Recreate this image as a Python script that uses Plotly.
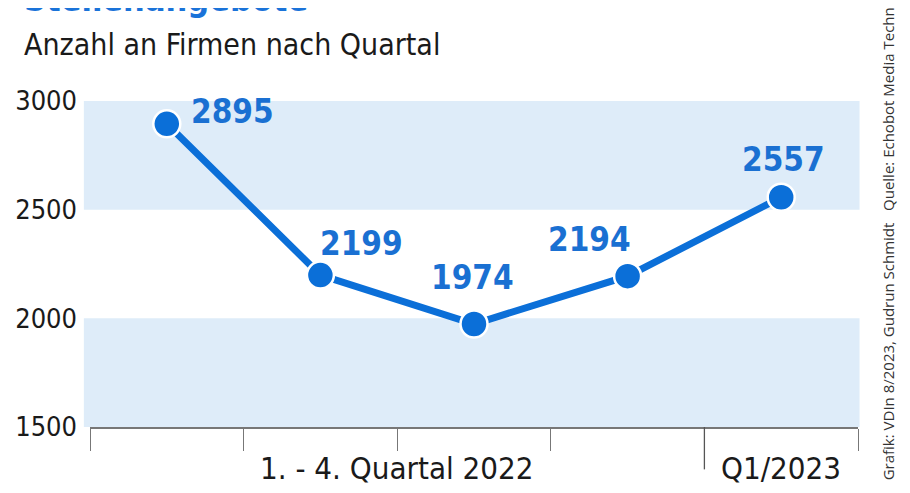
import plotly.graph_objects as go

# ---- data ----
quarters = ["Q1/2022", "Q2/2022", "Q3/2022", "Q4/2022", "Q1/2023"]
firms = [2895, 2199, 1974, 2194, 2557]
group_labels = ["1. - 4. Quartal 2022", "Q1/2023"]
y_ticks = [1500, 2000, 2500, 3000]

title = "Stellenangebote"
subtitle = "Anzahl an Firmen nach Quartal"
source = "Grafik: VDIn 8/2023, Gudrun Schmidt   Quelle: Echobot Media Technologies"

BLUE = "#0b6fd8"
LABEL_BLUE = "#1a70d2"
BAND = "#deecf9"
FONT = "DejaVu Sans Condensed, sans-serif"

xs = list(range(len(quarters)))

fig = go.Figure()
fig.add_trace(go.Scatter(
    x=xs, y=firms, mode="lines+markers",
    line=dict(color=BLUE, width=7),
    marker=dict(size=27, color=BLUE, line=dict(color="white", width=2.5)),
    hoverinfo="skip", showlegend=False,
))

# background bands
for lo, hi in [(1500, 2000), (2500, 3000)]:
    fig.add_shape(type="rect", xref="paper", yref="y", x0=-0.008, x1=1.002,
                  y0=lo, y1=hi, fillcolor=BAND, line_width=0, layer="below")

# long separator tick between 2022 and 2023
fig.add_shape(type="line", xref="x", yref="paper", x0=3.5, x1=3.5, y0=0, y1=-0.13,
              line=dict(color="#555", width=1.3))

# data labels
shifts = [(66, 12), (41, 32), (-2, 46), (-38, 37), (2, 38)]
for x, v, (dx, dy) in zip(xs, firms, shifts):
    fig.add_annotation(x=x, y=v, text=f"<b>{v}</b>", showarrow=False,
                       xshift=dx, yshift=dy,
                       font=dict(family="DejaVu Sans Condensed, DejaVu Sans", size=33, color=LABEL_BLUE))

# group labels
fig.add_annotation(x=1.5, y=-0.125, xref="x", yref="paper", text=group_labels[0],
                   showarrow=False, yanchor="middle",
                   font=dict(family=FONT, size=31, color="#1a1a1a"))
fig.add_annotation(x=4, y=-0.125, xref="x", yref="paper", text=group_labels[1],
                   showarrow=False, yanchor="middle",
                   font=dict(family=FONT, size=31, color="#1a1a1a"))

# title + subtitle
fig.add_annotation(x=-0.088, y=1.312, xref="paper", yref="paper", text=f"<b>{title}</b>",
                   showarrow=False, xanchor="left", yanchor="middle",
                   font=dict(family="DejaVu Sans Condensed, DejaVu Sans", size=34, color="#1a73d9"))
fig.add_annotation(x=-0.088, y=1.172, xref="paper", yref="paper", text=subtitle,
                   showarrow=False, xanchor="left", yanchor="middle",
                   font=dict(family=FONT, size=30, color="#1a1a1a"))

# source text, rotated
fig.add_annotation(x=1.039, y=-0.17, xref="paper", yref="paper", text=source,
                   showarrow=False, textangle=-90, xanchor="center", yanchor="bottom",
                   font=dict(family="Open Sans, DejaVu Sans", size=15, color="#333"))

fig.update_layout(
    width=910, height=493,
    margin=dict(l=82, r=60, t=93, b=74, autoexpand=False),
    plot_bgcolor="white", paper_bgcolor="white",
    xaxis=dict(range=[-0.5, 4.5], tickmode="array", automargin=False,
               tickvals=[-0.5, 0.5, 1.5, 2.5, 3.5, 4.5], ticktext=[""] * 6,
               ticks="outside", ticklen=22, tickcolor="#777", tickwidth=1.3,
               showline=True, linecolor="#777", linewidth=1.5,
               showgrid=False, zeroline=False, fixedrange=True),
    yaxis=dict(range=[1500, 3000], tickmode="array", tickvals=y_ticks, automargin=False,
               showgrid=False, zeroline=False, showline=False, ticks="",
               ticklabelstandoff=12,
               tickfont=dict(family=FONT, size=27, color="#1a1a1a"), fixedrange=True),
)

fig.write_html("out.html")
